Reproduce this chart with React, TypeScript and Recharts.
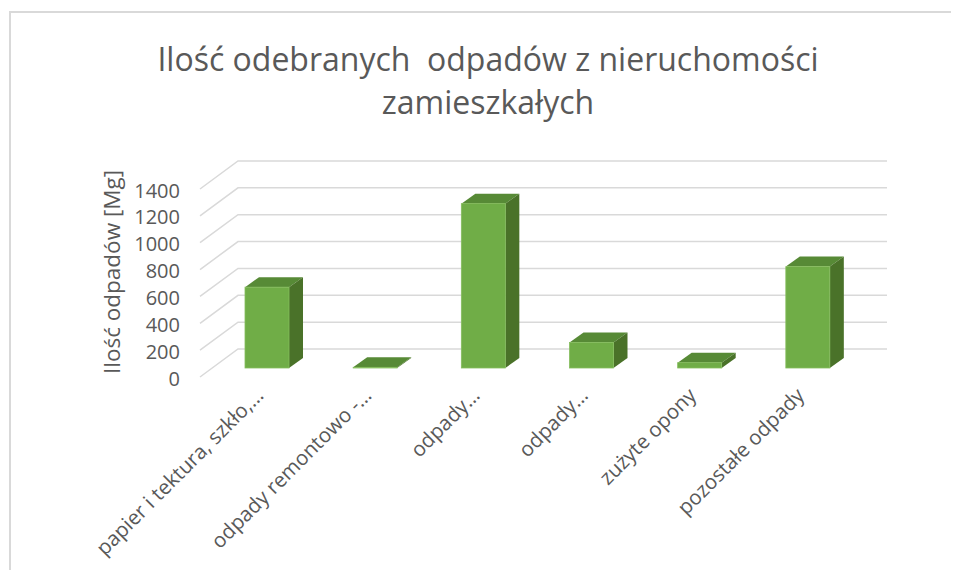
import { BarChart, Bar, XAxis, YAxis, CartesianGrid } from 'recharts'

const categories = [
  'papier i tektura, szkło,…',
  'odpady remontowo -…',
  'odpady…',
  'odpady…',
  'zużyte opony',
  'pozostałe odpady'
]
const amounts = [602, 5, 1224, 190, 40, 755]
const yTicks = [0, 200, 400, 600, 800, 1000, 1200, 1400]

const data = categories.map((name, i) => ({ name, value: amounts[i] }))

const FONT = '"Open Sans", sans-serif'
const TEXT = '#595959'
const DX = 14
const DY = 10

const Box3D = (props: any) => {
  const { x, y, width, height } = props
  const w = width
  const h = Math.max(height, 0)
  return (
    <g>
      <polygon
        points={`${x},${y} ${x + DX},${y - DY} ${x + w + DX},${y - DY} ${x + w},${y}`}
        fill="#578a36"
      />
      <polygon
        points={`${x + w},${y} ${x + w + DX},${y - DY} ${x + w + DX},${y + h - DY} ${x + w},${y + h}`}
        fill="#4a7229"
      />
      <rect x={x} y={y} width={w} height={h} fill="#70ad47" stroke="#86bd5e" strokeWidth={0.8} />
    </g>
  )
}

const gridLine = (props: any) => {
  const { x1, x2, y1, key } = props
  return (
    <polyline
      key={key}
      points={`${x1 - 13},${y1 + 9} ${x1 + 25},${y1 - 19} ${x2 + 25},${y1 - 19}`}
      fill="none"
      stroke="#d9d9d9"
      strokeWidth={1.5}
    />
  )
}

const YTick = (props: any) => {
  const { x, y, payload } = props
  return (
    <text x={x} y={y + 10} textAnchor="end" dominantBaseline="central" fill={TEXT} fontSize={20} fontFamily={FONT}>
      {payload.value}
    </text>
  )
}

const XTick = (props: any) => {
  const { x, y, payload } = props
  const ax = x - 8
  const ay = y + 15
  return (
    <text
      x={ax}
      y={ay}
      transform={`rotate(-45, ${ax}, ${ay})`}
      textAnchor="end"
      dominantBaseline="central"
      fill={TEXT}
      fontSize={20.5}
      fontFamily={FONT}
    >
      {payload.value}
    </text>
  )
}

export default function App() {
  return (
    <div style={{ position: 'relative', width: 951, height: 562, overflow: 'hidden', background: '#fff' }}>
      <div
        style={{
          position: 'absolute',
          left: 1,
          top: 3,
          width: 960,
          height: 600,
          borderTop: '2px solid #d9d9d9',
          borderLeft: '2px solid #d9d9d9'
        }}
      />
      <div
        style={{
          position: 'absolute',
          left: 0,
          top: 29,
          width: 960,
          textAlign: 'center',
          fontFamily: FONT,
          fontSize: 32,
          lineHeight: '43px',
          color: TEXT,
          whiteSpace: 'pre'
        }}
      >
        {'Ilość odebranych  odpadów z nieruchomości\nzamieszkałych'}
      </div>
      <div
        style={{
          position: 'absolute',
          left: 103,
          top: 264,
          transform: 'translate(-50%, -50%) rotate(-90deg)',
          fontFamily: FONT,
          fontSize: 22.5,
          color: TEXT,
          whiteSpace: 'nowrap'
        }}
      >
        Ilość odpadów [Mg]
      </div>
      <div style={{ position: 'absolute', left: 0, top: 0 }}>
        <BarChart
          width={951}
          height={562}
          data={data}
          margin={{ top: 172, right: 97, left: 0, bottom: 0 }}
          barSize={44}
        >
          <CartesianGrid vertical={false} horizontal={gridLine} />
          <XAxis
            dataKey="name"
            height={202}
            axisLine={false}
            tickLine={false}
            interval={0}
            tick={<XTick />}
          />
          <YAxis
            width={205}
            domain={[0, 1400]}
            ticks={yTicks}
            axisLine={false}
            tickLine={false}
            tickSize={0}
            tickMargin={33}
            tick={<YTick />}
          />
          <Bar dataKey="value" shape={<Box3D />} isAnimationActive={false} />
        </BarChart>
      </div>
    </div>
  )
}
